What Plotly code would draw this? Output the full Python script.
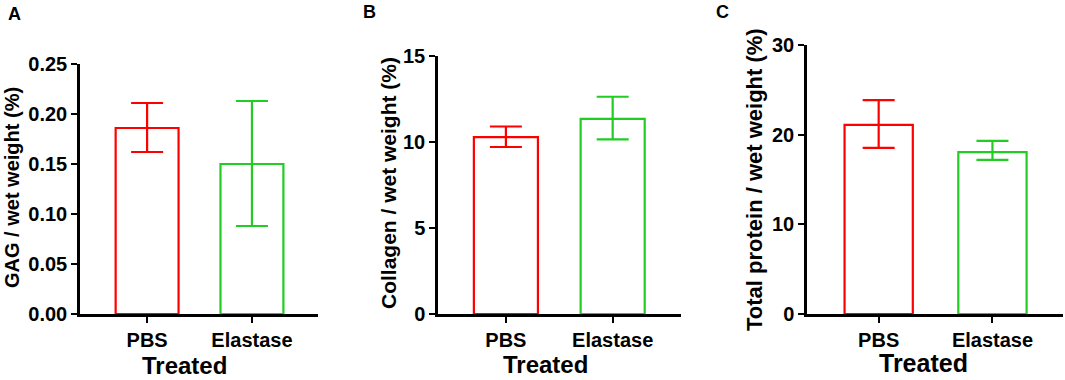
import plotly.graph_objects as go

# ---- data ----
categories = ["PBS", "Elastase"]
colors = ["#FF0000", "#22CC22"]

gag_mean = [0.186, 0.150]
gag_err_up = [0.025, 0.063]
gag_err_down = [0.024, 0.062]

collagen_mean = [10.28, 11.35]
collagen_err_up = [0.62, 1.28]
collagen_err_down = [0.57, 1.2]

protein_mean = [21.1, 18.05]
protein_err_up = [2.76, 1.25]
protein_err_down = [2.58, 0.86]

panel_letters = ["A", "B", "C"]
y_titles = ["GAG / wet weight (%)", "Collagen / wet weight (%)", "Total protein / wet weight (%)"]
x_title = "Treated"
y_ticks = [[0, 0.05, 0.10, 0.15, 0.20, 0.25], [0, 5, 10, 15], [0, 10, 20, 30]]
y_ticktext = [["0.00", "0.05", "0.10", "0.15", "0.20", "0.25"], ["0", "5", "10", "15"], ["0", "10", "20", "30"]]
y_ranges = [[0, 0.25], [0, 15], [0, 30]]

W, H = 1065, 380
FONT = "Arial, Liberation Sans, sans-serif"

# panel geometry (pixels)
panels = [
    dict(x0=80, x1=318, y0=314, y1=64, xr=[-0.64, 1.63], tick=20, yt=20, xt=24,
         ytx=12, yty=188, xtx=184, xty=365, lx=14, ly=14),
    dict(x0=438, x1=681, y0=314, y1=56, xr=[-0.636, 1.64], tick=20, yt=21, xt=24,
         ytx=388, yty=183, xtx=545, xty=364, lx=369, ly=12),
    dict(x0=807, x1=1063, y0=314, y1=45, xr=[-0.63, 1.62], tick=20, yt=22, xt=25,
         ytx=755, yty=180, xtx=923, xty=363, lx=722, ly=12),
]

means = [gag_mean, collagen_mean, protein_mean]
ups = [gag_err_up, collagen_err_up, protein_err_up]
downs = [gag_err_down, collagen_err_down, protein_err_down]

fig = go.Figure()
annotations = []
layout_axes = {}
for i, p in enumerate(panels):
    xa = "x" if i == 0 else f"x{i+1}"
    ya = "y" if i == 0 else f"y{i+1}"
    for j, cat in enumerate(categories):
        fig.add_trace(go.Bar(
            x=[cat], y=[means[i][j]], xaxis=xa, yaxis=ya, width=0.6,
            marker=dict(color="white", line=dict(color=colors[j], width=2.2)),
            error_y=dict(type="data", symmetric=False, array=[ups[i][j]],
                         arrayminus=[downs[i][j]], color=colors[j],
                         thickness=2.2, width=16),
            showlegend=False, hoverinfo="skip"))
    xkey = "xaxis" if i == 0 else f"xaxis{i+1}"
    ykey = "yaxis" if i == 0 else f"yaxis{i+1}"
    layout_axes[xkey] = dict(
        domain=[p["x0"] / W, p["x1"] / W], anchor=ya, range=p["xr"],
        type="category", showline=True, linecolor="black", linewidth=2.5,
        ticks="outside", ticklen=6, tickwidth=2, tickcolor="black",
        showgrid=False, zeroline=False, automargin=False,
        tickfont=dict(family=FONT, size=p["tick"], color="black", weight="bold"))
    layout_axes[ykey] = dict(
        domain=[1 - p["y0"] / H, 1 - p["y1"] / H], anchor=xa, range=y_ranges[i],
        tickvals=y_ticks[i], ticktext=y_ticktext[i],
        showline=True, linecolor="black", linewidth=2.5,
        ticks="outside", ticklen=6, tickwidth=2, tickcolor="black",
        showgrid=False, zeroline=False, automargin=False,
        tickfont=dict(family=FONT, size=p["tick"], color="black", weight="bold"))
    annotations.append(dict(text=f"<b>{y_titles[i]}</b>", textangle=-90,
                            x=p["ytx"] / W, y=1 - p["yty"] / H, xref="paper", yref="paper",
                            showarrow=False, xanchor="center", yanchor="middle",
                            font=dict(family=FONT, size=p["yt"], color="black")))
    annotations.append(dict(text=f"<b>{x_title}</b>",
                            x=p["xtx"] / W, y=1 - p["xty"] / H, xref="paper", yref="paper",
                            showarrow=False, xanchor="center", yanchor="middle",
                            font=dict(family=FONT, size=p["xt"], color="black")))
    annotations.append(dict(text=f"<b>{panel_letters[i]}</b>",
                            x=p["lx"] / W, y=1 - p["ly"] / H, xref="paper", yref="paper",
                            showarrow=False, xanchor="center", yanchor="middle",
                            font=dict(family=FONT, size=18, color="black")))

fig.update_layout(
    width=W, height=H, margin=dict(l=0, r=0, t=0, b=0, autoexpand=False),
    paper_bgcolor="white", plot_bgcolor="white",
    barmode="overlay", showlegend=False, annotations=annotations,
    **layout_axes)

fig.write_html("out.html", config={"displayModeBar": False},
               post_script="document.body.style.margin='0';document.body.style.overflow='hidden';")
